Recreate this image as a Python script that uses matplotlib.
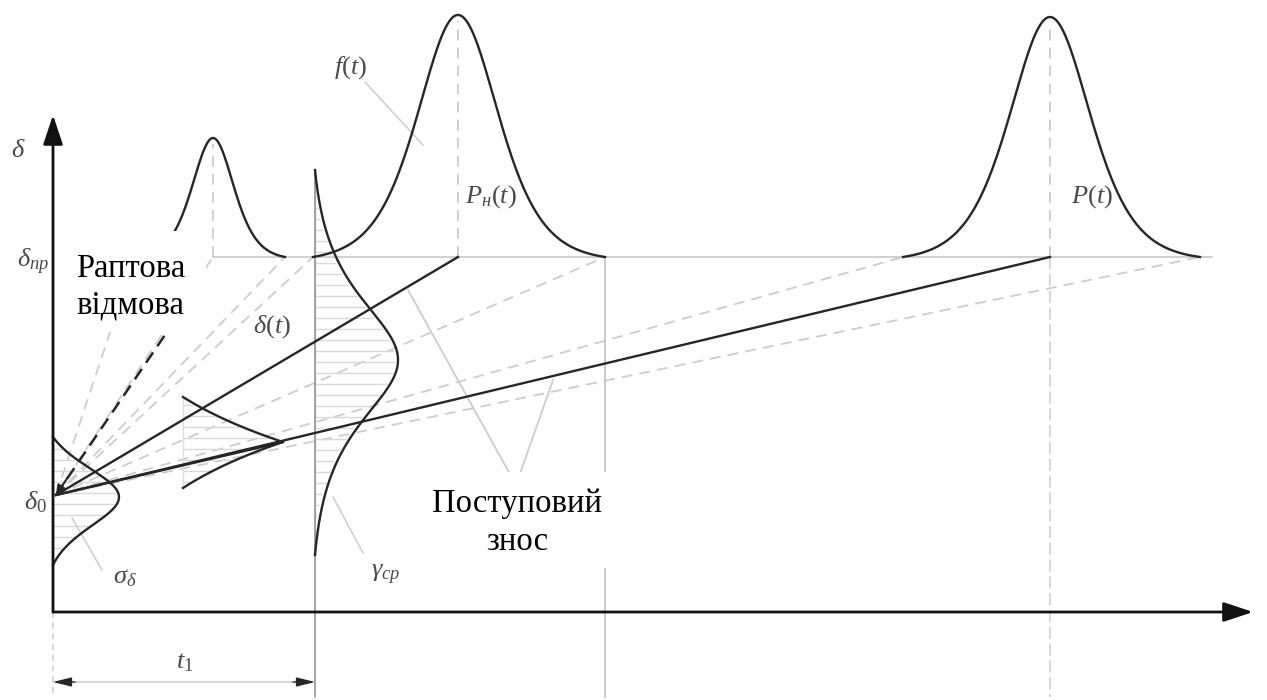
import numpy as np
import matplotlib.pyplot as plt
from matplotlib.patches import Rectangle

plt.rcParams['font.family'] = ['Liberation Serif', 'DejaVu Serif']
plt.rcParams['mathtext.fontset'] = 'custom'
plt.rcParams['mathtext.rm'] = 'Liberation Serif'
plt.rcParams['mathtext.it'] = 'Liberation Serif:italic'

# diagram units: t along the time axis, d along the deviation axis
t_end = 1200
d_end = 497
d_0 = 117
d_lim = 355
t_1 = 262
t_start = 3          # drift lines leave the axis here, at d_0

# failure-time densities standing on the limit line
bell_t = [160, 405, 997]
bell_h = [119, 242, 240]
bell_s = [28, 54, 54]
bell_lo = [82, 260, 850]
bell_hi = [232, 552, 1147]

# deviation densities on vertical bases (t = 0, intermediate, t_1)
dens_t = [0, 130, 262]
dens_c = [115, 170, 252]
dens_a = [66, 100, 83]
dens_s = [42, 70, 55]
dens_lo = [47, 124, 57]
dens_hi = [175, 215, 442]
dens_kind = ['sech2', 'cusp', 'sech']

# solid drift lines from (t_start, d_0)
drift_t = [405, 997, 230]
drift_d = [355, 355, 170]

# light dashed fan reaching the limit level
fan_t = [82, 160, 232, 260, 552, 850, 1147]

# sudden failure
jump_t = [t_start, 114]
jump_d = [d_0, 280]

# pale broken line under P_н(t)
v_t = [355, 463, 500]
v_d = [322, 127, 232]

dark = '#262626'
pale = '#cdcdcd'
lab = '#4a4a4a'


def shape(z, kind):
    if kind == 'sech2':
        return 1 / np.cosh(z) ** 2
    if kind == 'sech':
        return 1 / np.cosh(z)
    return np.exp(-np.abs(z))


def side_norm(x, c, s, lo, hi, kind):
    # scale each half so that it ends exactly on its base
    f = shape((x - c) / s, kind)
    f_lo = shape((lo - c) / s, kind)
    f_hi = shape((hi - c) / s, kind)
    fe = np.where(x < c, f_lo, f_hi)
    return (f - fe) / (1 - fe)


fig = plt.figure(figsize=(12.67, 7.0), dpi=100)
ax = fig.add_axes([0, 0, 1, 1])
ax.set_xlim(-53, 1214)
ax.set_ylim(-88, 612)
ax.axis('off')

# limit level
ax.plot([bell_t[0], bell_hi[2] + 12], [d_lim, d_lim], color=pale, lw=1.3, zorder=1)

# light fan
for tf in fan_t:
    ax.plot([t_start, tf], [d_0, d_lim], color=pale, lw=1.3, dashes=(6, 4), zorder=1)

# pale broken line
ax.plot(v_t, v_d, color=pale, lw=1.3, zorder=1)

# bells
for c, h, s, lo, hi in zip(bell_t, bell_h, bell_s, bell_lo, bell_hi):
    x = np.linspace(lo, hi, 300)
    y = d_lim + h * side_norm(x, c, s, lo, hi, 'sech2')
    ax.plot(x, y, color=dark, lw=1.7, zorder=3)
    ax.plot([c, c], [d_lim, d_lim + h - 6], color=pale, lw=1.3, dashes=(6, 4), zorder=1)

# verticals down to the dimension line
ax.plot([bell_hi[1], bell_hi[1]], [d_lim, -85], color='#bdbdbd', lw=1.1, zorder=1)
ax.plot([bell_t[2], bell_t[2]], [d_lim, -85], color=pale, lw=1.1, dashes=(8, 3), zorder=1)
ax.plot([t_1, t_1], [dens_hi[2], -85], color='#8c8c8c', lw=1.1, zorder=2)
ax.plot([0, 0], [0, -85], color=pale, lw=1.1, dashes=(4, 3), zorder=1)

# deviation densities with hatching
for tb, c, a, s, lo, hi, kind in zip(dens_t, dens_c, dens_a, dens_s, dens_lo, dens_hi, dens_kind):
    d = np.linspace(lo, hi, 300)
    t = tb + a * side_norm(d, c, s, lo, hi, kind)
    ax.plot(t, d, color=dark, lw=1.7, zorder=3)
    levels = np.arange(lo + 6, hi - 2, 11)
    ax.hlines(levels, tb, np.interp(levels, d, t) - 3, color='#d9d9d9', lw=1.0, zorder=1)
    if tb > 0:
        ax.plot([tb, tb], [lo, hi], color='#dddddd', lw=1.0, zorder=1)

# drift lines
for te, de in zip(drift_t, drift_d):
    ax.plot([t_start, te], [d_0, de], color=dark, lw=1.7, zorder=3)

# sudden failure line with arrow head at d_0
ax.plot(jump_t, jump_d, color=dark, lw=1.8, dashes=(5, 3), zorder=3)
ax.annotate('', xy=(jump_t[0], jump_d[0]), xytext=(jump_t[0] + 12, jump_d[0] + 18),
            arrowprops=dict(arrowstyle='-|>', color=dark, lw=1.5,
                            mutation_scale=14, shrinkA=0, shrinkB=0), zorder=4)

# white panels behind the two captions
ax.add_patch(Rectangle((5, 280), 148, 101, facecolor='white', edgecolor='none', zorder=5))
ax.add_patch(Rectangle((357, 44), 202, 96, facecolor='white', edgecolor='none', zorder=5))

# axes
ax.annotate('', xy=(t_end, 0), xytext=(0, 0),
            arrowprops=dict(arrowstyle='-|>,head_length=0.9,head_width=0.3', color='#111111',
                            lw=2.0, mutation_scale=20, shrinkA=0, shrinkB=0), zorder=6)
ax.annotate('', xy=(0, d_end), xytext=(0, 0),
            arrowprops=dict(arrowstyle='-|>,head_length=0.9,head_width=0.3', color='#111111',
                            lw=2.0, mutation_scale=20, shrinkA=0, shrinkB=0), zorder=6)

# t_1 dimension
ax.plot([0, t_1], [-70, -70], color=pale, lw=1.1, zorder=1)
for xa, xb in [(0, 22), (t_1, t_1 - 22)]:
    ax.annotate('', xy=(xa, -70), xytext=(xb, -70),
                arrowprops=dict(arrowstyle='-|>,head_length=0.8,head_width=0.2', color=dark,
                                lw=1.0, mutation_scale=14, shrinkA=0, shrinkB=0))

# leader lines
for (x0, y0), (x1, y1) in [((312, 530), (370, 467)), ((280, 115), (310, 59)), ((19, 94), (49, 42))]:
    ax.plot([x0, x1], [y0, y1], color=pale, lw=1.1, zorder=1)

# labels
lab_kw = dict(color=lab, fontsize=19, ha='center', va='center', zorder=7)
ax.text(-35, 461, r'$\delta$', **lab_kw)
ax.text(-20, 350, r'$\delta_{пр}$', **lab_kw)
ax.text(-18, 110, r'$\delta_0$', **lab_kw)
ax.text(298, 544, r'$f(t)$', **lab_kw)
ax.text(438, 415, r'$P_{н}(t)$', **lab_kw)
ax.text(1039, 415, r'$P(t)$', **lab_kw)
ax.text(219, 285, r'$\delta(t)$', **lab_kw)
ax.text(333, 37, r'$\gamma_{ср}$', **lab_kw)
ax.text(72, 34, r'$\sigma_{\delta}$', **lab_kw)
ax.text(132, -51, r'$t_1$', **lab_kw)

cap_kw = dict(fontsize=23.5, color='black', va='baseline', zorder=7)
ax.text(23, 335, 'Раптова', ha='left', **cap_kw)
ax.text(23, 299, 'відмова', ha='left', **cap_kw)
ax.text(464, 100, 'Поступовий', ha='center', **cap_kw)
ax.text(464, 62, 'знос', ha='center', **cap_kw)

fig.savefig('out.png', dpi=100)
